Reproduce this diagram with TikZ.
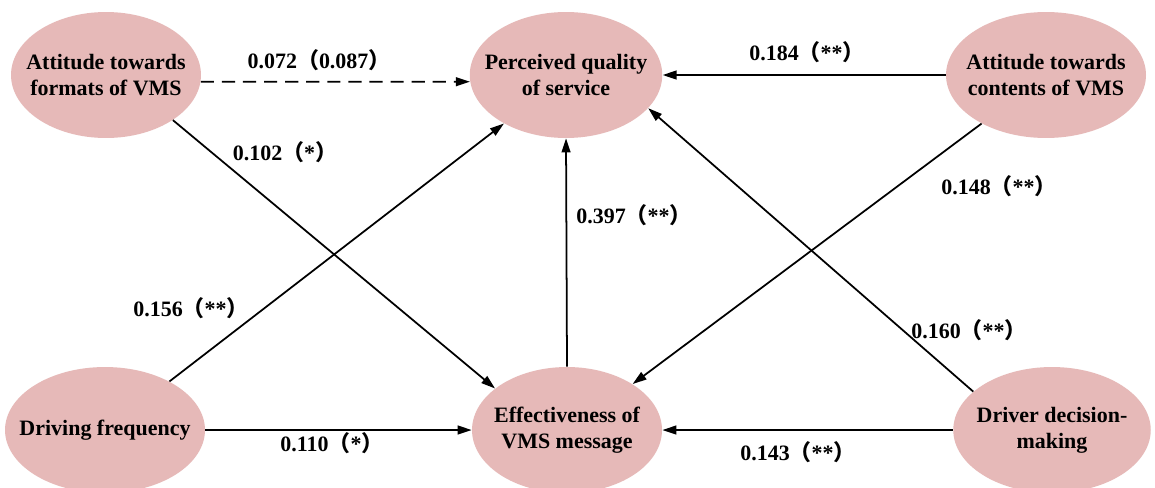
\documentclass[tikz,border=0pt]{standalone}
\usepackage{fontspec}
\setmainfont{Liberation Serif}
\newfontfamily\cjk{Noto Sans CJK SC}
\usetikzlibrary{arrows.meta,shapes.geometric,positioning}
\definecolor{factorpink}{HTML}{E6B9B8}
\newcommand{\fwl}{{\cjk （}}
\newcommand{\fwr}{{\cjk ）}}

\begin{document}
\begin{tikzpicture}[x=0.02cm, y=-0.02cm,
    factor/.style={ellipse, fill=factorpink, inner xsep=-0.8cm, inner ysep=0pt, minimum width=3.85cm, minimum height=2.52cm, align=center, font=\fontsize{12.5}{15}\selectfont\bfseries},
    effect/.style={-{Triangle[length=8pt,width=5pt]}, line width=1pt},
    coef/.style={font=\fontsize{12.5}{15}\selectfont\bfseries, inner sep=0pt}]
    \clip (0,0) rectangle (1155,487);
    \fill[white] (0,0) rectangle (1155,487);

    % latent factors
    \node(formats) [factor, minimum width=3.8cm] at (106,75) {Attitude towards\\formats of VMS};
    \node(quality) [factor] at (566,75) {Perceived quality\\of service};
    \node(contents) [factor, minimum width=4cm] at (1046,75) {Attitude towards\\contents of VMS};
    \node(frequency) [factor, minimum width=4cm] at (105,430) {Driving frequency};
    \node(effect) [factor, minimum width=3.8cm] at (567,430) {Effectiveness of\\VMS message};
    \node(decision) [factor, minimum width=3.95cm] at (1052,430) {Driver decision-\\making};

    % paths
    \draw[effect, dash pattern=on 7.5pt off 4.5pt] (formats.-4) -- (quality.184);
    \draw[effect] (contents.west) -- (quality.east);
    \draw[effect] (formats.-34) -- (effect.150);
    \draw[effect] (frequency.37) -- (quality.218);
    \draw[effect] (effect.north) -- (quality.south);
    \draw[effect] (contents.217) -- (effect.35);
    \draw[effect] (decision.154) -- (quality.-22);
    \draw[effect] (frequency.east) -- (effect.west);
    \draw[effect] (decision.west) -- (effect.east);

    % coefficients
    \node(c1) [coef] at (319,60) {0.072\fwl0.087\fwr};
    \node(c2) [coef] at (807,52) {0.184\fwl**\fwr};
    \node(c3) [coef] at (285,152) {0.102\fwl*\fwr};
    \node(c4) [coef] at (191,308) {0.156\fwl**\fwr};
    \node(c5) [coef] at (634,215) {0.397\fwl**\fwr};
    \node(c6) [coef] at (999,186) {0.148\fwl**\fwr};
    \node(c7) [coef] at (969,330) {0.160\fwl**\fwr};
    \node(c8) [coef] at (332,443) {0.110\fwl*\fwr};
    \node(c9) [coef] at (798,452) {0.143\fwl**\fwr};
\end{tikzpicture}
\end{document}
